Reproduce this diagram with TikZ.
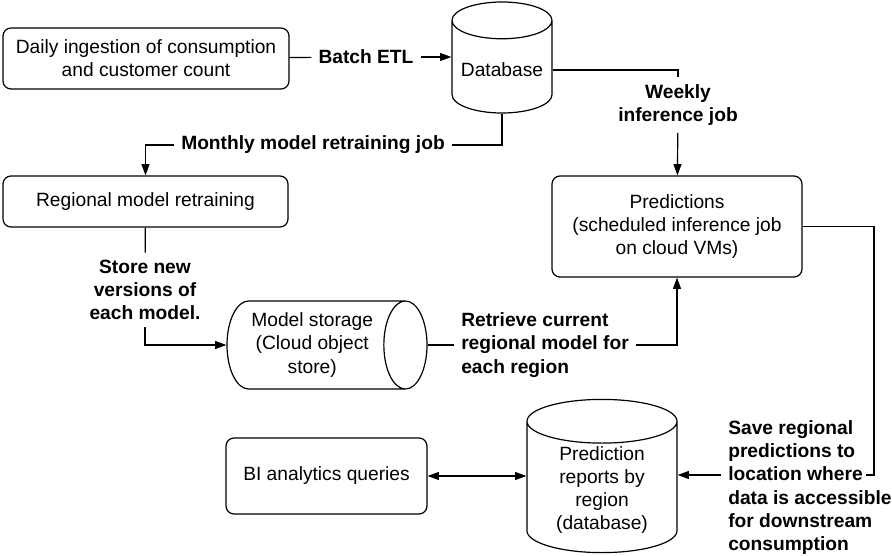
\documentclass[tikz,border=0pt]{standalone}
\usepackage{fontspec}
\setmainfont{Liberation Sans}
\usetikzlibrary{arrows.meta, positioning, shapes.geometric}
\newcommand{\boxfont}{\fontsize{14.4}{17.4}\selectfont}
\tikzset{
  every picture/.style={line width=0.9pt},
  box/.style={draw, rounded corners=6pt, align=center, font=\boxfont, inner sep=3pt},
  store/.style={draw, cylinder, shape border rotate=90, anchor=shape center, align=center, font=\boxfont, inner sep=2pt},
  lbl/.style={font=\boxfont\bfseries, align=center, inner sep=5pt},
  arrow/.style={-{Triangle[length=8.5pt, width=6pt]}},
  dblarrow/.style={{Triangle[length=8.5pt, width=6pt]}-{Triangle[length=8.5pt, width=6pt]}},
}

\begin{document}
\begin{tikzpicture}[x=0.75pt, y=-0.75pt]
  \useasboundingbox (0,0) rectangle (892,556);
  % ---------- boxes and stores ----------
  \node[box, minimum width=214.5pt, minimum height=45.75pt] (daily) at (146,58.5) {Daily ingestion of consumption\\and customer count};
  \node[store, aspect=0.42, minimum width=75pt, minimum height=83.25pt] (db) at (502,57.5) {Database};
  \node[box, minimum width=213.75pt, minimum height=38.25pt] (retrain) at (145.5,201.5) {Regional model retraining};
  \node[box, minimum width=187.5pt, minimum height=75.75pt] (pred) at (677,226.5) {Predictions\\(scheduled inference job\\on cloud VMs)};
  \node[store, shape border rotate=0, aspect=0.62, minimum width=66pt, minimum height=150pt] (storage) at (327,345) {Model storage\\(Cloud object\\store)};
  \node[box, minimum width=150.75pt, minimum height=57pt] (bi) at (326.5,476) {BI analytics queries};
  \node[store, aspect=0.45, minimum width=112.5pt, minimum height=114.75pt] (reports) at (602,476) {Prediction\\reports by\\region\\(database)};
  % ---------- connector labels ----------
  \node[lbl] (etl) at (366,57) {Batch ETL};
  \node[lbl] (weekly) at (678,105) {Weekly\\inference job};
  \node[lbl] (monthly) at (313,145) {Monthly model retraining job};
  \node[lbl] (newver) at (145,290) {Store new\\versions of\\each model.};
  \node[lbl, align=left, anchor=west] (retrieve) at (454,345) {Retrieve current\\regional model for\\each region};
  \node[lbl, align=left, anchor=west] (save) at (721,487.5) {Save regional\\predictions to\\location where\\data is accessible\\for downstream\\consumption};
  \coordinate (turn) at (874,475);
  \coordinate (savein) at (866,475);
  % ---------- connectors ----------
  \draw (daily) -- (etl);
  \draw[arrow] (etl) -- (etl -| db.west);
  \draw (db.south) |- (monthly);
  \draw[arrow] (monthly) -| (retrain.north);
  \draw (db.east) -| (weekly.north);
  \draw[arrow] (weekly) -- (pred);
  \draw (retrain) -- (newver);
  \draw[arrow] (newver.south) |- (storage.west);
  \draw (storage.east) -- (storage.east -| retrieve.west);
  \draw[arrow] (retrieve.east |- storage.east) -| (pred.south);
  \draw (pred.east) -| (turn) -- (savein);
  \draw[arrow] (save.west |- turn) -- (reports.east |- turn);
  \draw[dblarrow] (bi) -- (bi -| reports.west);
\end{tikzpicture}
\end{document}
